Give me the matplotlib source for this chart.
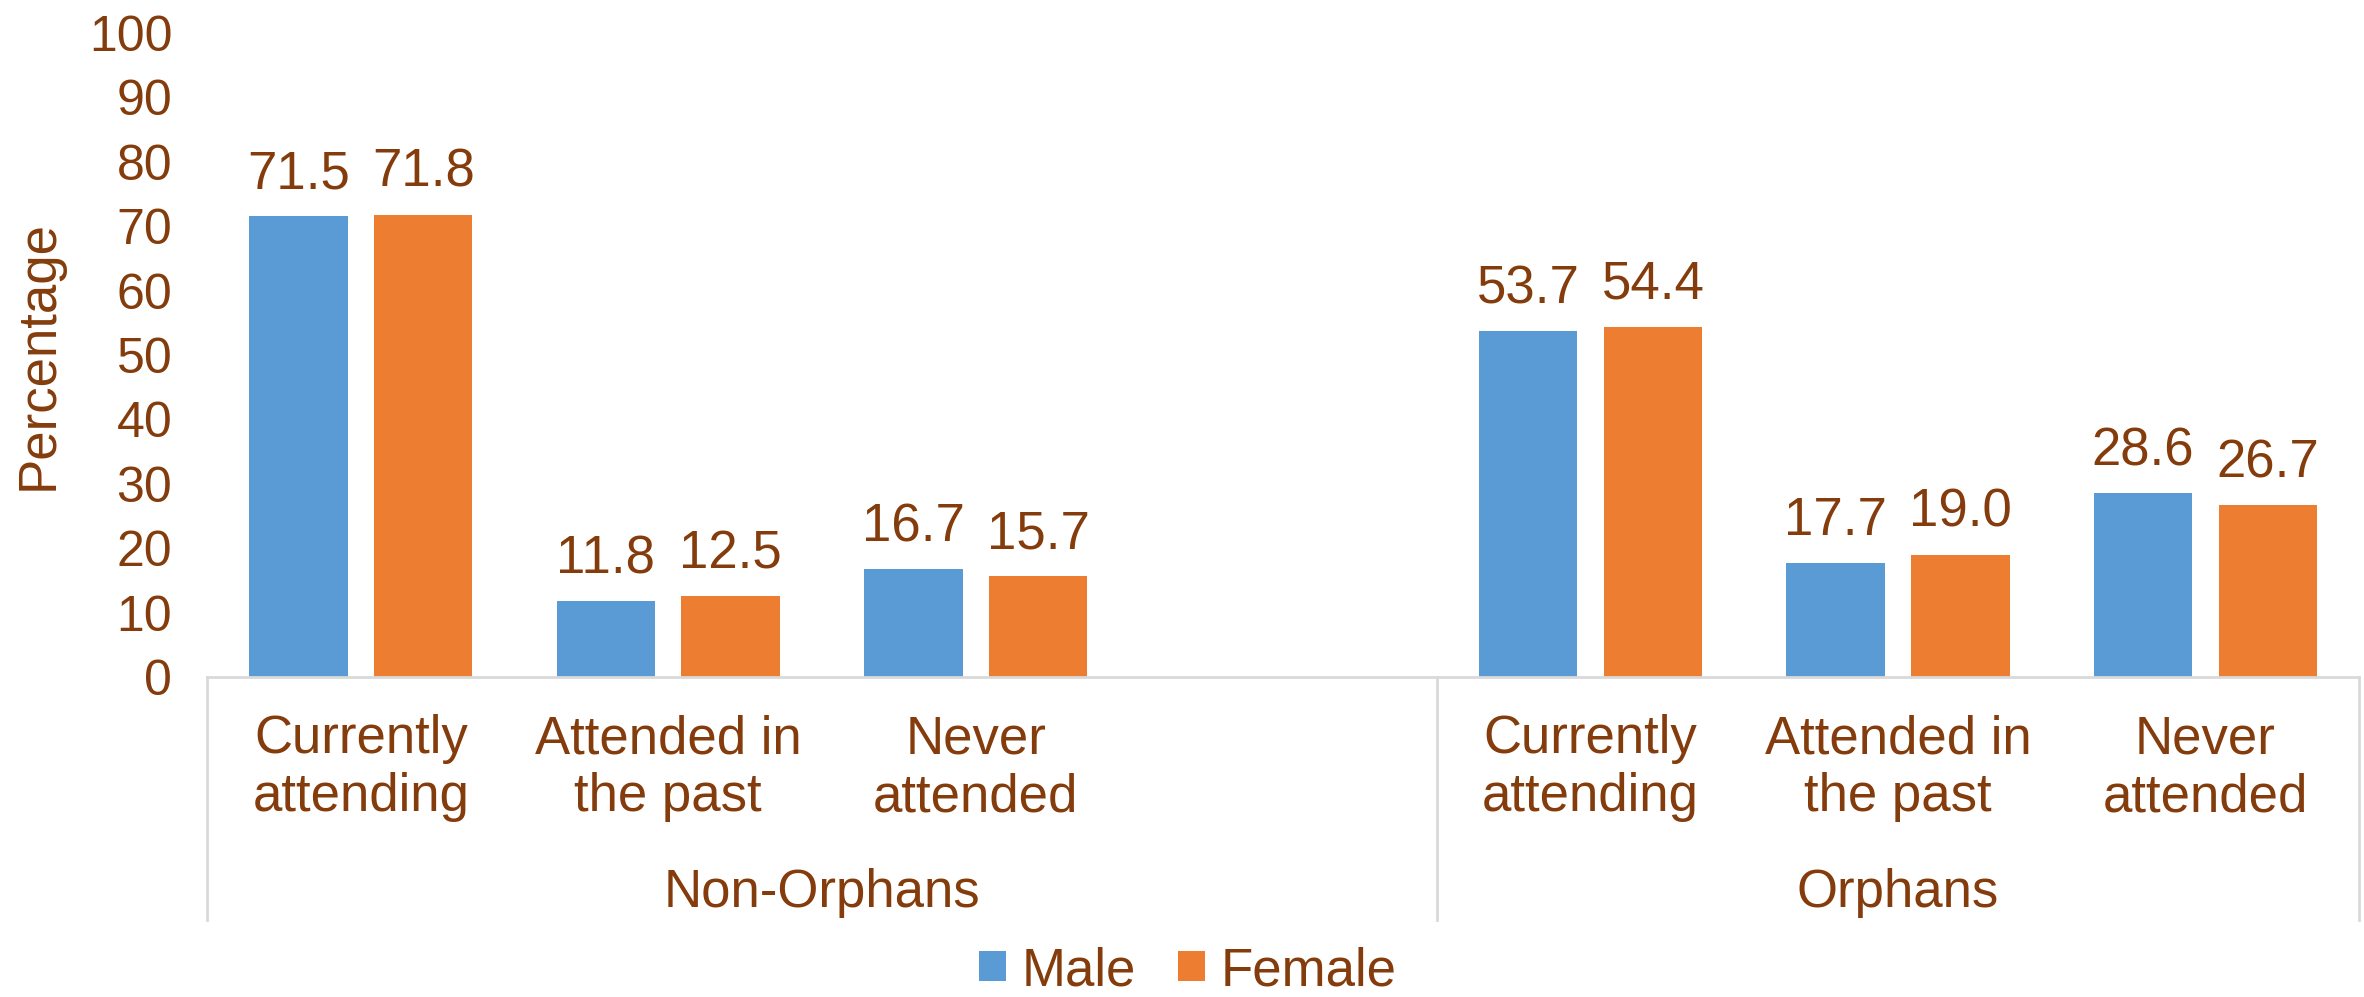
import matplotlib.pyplot as plt
from matplotlib.transforms import blended_transform_factory

# data
groups = ["Non-Orphans", "Orphans"]
categories = ["Currently\nattending", "Attended in\nthe past", "Never\nattended", "",
              "Currently\nattending", "Attended in\nthe past", "Never\nattended"]
male = [71.5, 11.8, 16.7, None, 53.7, 17.7, 28.6]
female = [71.8, 12.5, 15.7, None, 54.4, 19.0, 26.7]
yticks = [0, 10, 20, 30, 40, 50, 60, 70, 80, 90, 100]

text_col = "#843C0C"
blue = "#5B9BD5"
orange = "#ED7D31"
grey = "#D9D9D9"
fs = 38

plt.rcParams['font.family'] = ['Liberation Sans', 'DejaVu Sans']

fig = plt.figure(figsize=(23.64, 9.97), dpi=100)
ax = fig.add_axes([0.0876, 0.321, 0.9104, 0.646])

x = list(range(len(categories)))
w = 0.32
off = 0.203
idx = [i for i in x if male[i] is not None]
b1 = ax.bar([i - off for i in idx], [male[i] for i in idx], w, color=blue, label="Male")
b2 = ax.bar([i + off for i in idx], [female[i] for i in idx], w, color=orange, label="Female")
ax.bar_label(b1, fmt="%.1f", padding=12, fontsize=fs, color=text_col)
ax.bar_label(b2, fmt="%.1f", padding=12, fontsize=fs, color=text_col)

ax.set_xlim(-0.5, 6.5)
ax.set_ylim(0, 100)
ax.set_yticks(yticks)
ax.tick_params(axis='y', length=0, labelsize=36, labelcolor=text_col, pad=25)
ax.set_xticks(x)
ax.set_xticklabels(categories)
ax.tick_params(axis='x', length=0, labelsize=fs, labelcolor=text_col, pad=27)
ax.set_ylabel("Percentage", fontsize=fs, color=text_col, labelpad=18)

for s in ['top', 'right', 'left']:
    ax.spines[s].set_visible(False)
ax.spines['bottom'].set_color(grey)
ax.spines['bottom'].set_linewidth(2)

# group separators and group labels
trans = blended_transform_factory(ax.transData, ax.transAxes)
for xs in [-0.5, 3.5, 6.5]:
    ax.plot([xs, xs], [0, -0.378], transform=trans, color=grey, lw=2, clip_on=False)
ax.text(1.5, -0.335, groups[0], transform=trans, ha='center', va='center',
        fontsize=fs, color=text_col)
ax.text(5.0, -0.335, groups[1], transform=trans, ha='center', va='center',
        fontsize=fs, color=text_col)

fig.legend(loc='center', bbox_to_anchor=(0.5025, 0.026), ncol=2, frameon=False,
           fontsize=fs, labelcolor=text_col, handlelength=0.5, handleheight=0.5,
           handletextpad=0.3, columnspacing=0.8)

fig.savefig("out.png", dpi=100)
